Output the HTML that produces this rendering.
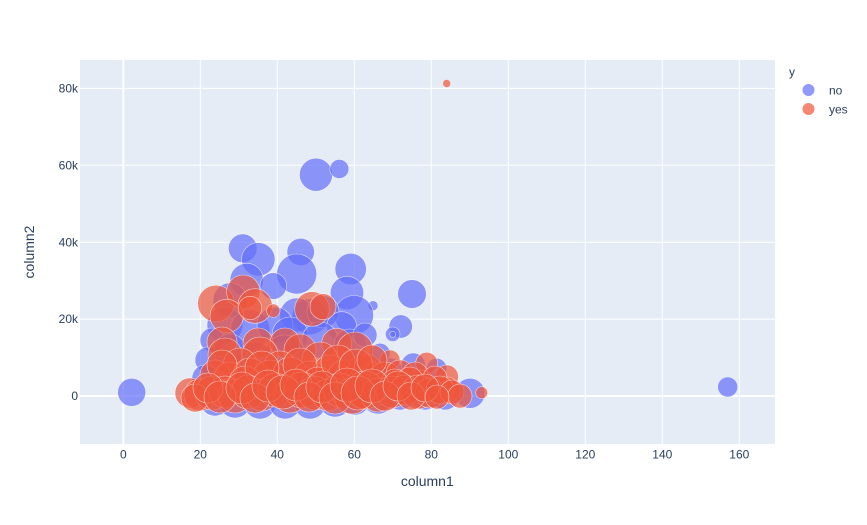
<!DOCTYPE html>
<html><head><meta charset="utf-8"><style>
html,body{margin:0;padding:0;background:#fff}
svg{display:block;font-family:"Liberation Sans",sans-serif}
.b circle{fill:#636efa;fill-opacity:.7;stroke:#fff;stroke-opacity:.7;stroke-width:.6}
.r circle{fill:#ef553b;fill-opacity:.7;stroke:#fff;stroke-opacity:.7;stroke-width:.6}
.t{fill:#2a3f5f;font-size:12px}
</style></head><body>
<svg width="867" height="525" viewBox="0 0 867 525">
<rect width="867" height="525" fill="#fff"/>
<rect x="80" y="60" width="695" height="384" fill="#e5ecf6"/>
<path stroke="#fff" stroke-width="1" d="M200.3 60V444M277.3 60V444M354.3 60V444M431.3 60V444M508.3 60V444M585.3 60V444M662.3 60V444M739.3 60V444M80 88.4H775M80 165.3H775M80 242.2H775M80 319.1H775"/>
<path stroke="#fff" stroke-width="2" d="M123.3 60V444M80 396H775"/>
<g class="b">
<circle cx="131.7" cy="392.3" r="14"/><circle cx="727.7" cy="387" r="10"/><circle cx="316" cy="174.7" r="16.5"/><circle cx="339.3" cy="169" r="9.5"/><circle cx="373" cy="305.7" r="5"/>
<circle cx="242.7" cy="248.3" r="14.3"/><circle cx="258.3" cy="259.3" r="16.7"/><circle cx="300.7" cy="252" r="13.7"/><circle cx="296.7" cy="274" r="20"/><circle cx="350.7" cy="269" r="15.7"/><circle cx="412" cy="294" r="14.3"/>
<circle cx="246.7" cy="280" r="16.7"/><circle cx="273.3" cy="286" r="13.3"/><circle cx="347" cy="293" r="16.7"/><circle cx="354" cy="315" r="19.5"/><circle cx="400.7" cy="326.5" r="11.7"/><circle cx="392.7" cy="334.3" r="7.3"/><circle cx="392.7" cy="334.3" r="3"/>
<circle cx="310" cy="316.7" r="18"/><circle cx="296.7" cy="315" r="17"/><circle cx="323" cy="311.7" r="16"/><circle cx="341.7" cy="326.7" r="15"/><circle cx="230" cy="300" r="17"/><circle cx="225" cy="325" r="18"/>
<circle cx="212" cy="340" r="12"/><circle cx="208" cy="360" r="13"/><circle cx="205" cy="378" r="13"/><circle cx="250" cy="330" r="20"/><circle cx="275" cy="325" r="18"/><circle cx="290" cy="335" r="18"/>
<circle cx="320" cy="340" r="18"/><circle cx="350" cy="345" r="16"/><circle cx="365" cy="335" r="12"/><circle cx="285" cy="355" r="20"/><circle cx="255" cy="360" r="18"/><circle cx="230" cy="350" r="16"/>
<circle cx="215" cy="401" r="15"/><circle cx="235" cy="402" r="16"/><circle cx="260" cy="403" r="16"/><circle cx="285" cy="403" r="16"/><circle cx="310" cy="403" r="16"/><circle cx="335" cy="401" r="16"/>
<circle cx="355" cy="400" r="15"/><circle cx="378" cy="398" r="16"/><circle cx="400" cy="395" r="15"/><circle cx="425" cy="395" r="15"/><circle cx="445" cy="396" r="14"/><circle cx="470" cy="393.3" r="15"/>
<circle cx="390" cy="370" r="12"/><circle cx="413.3" cy="365" r="12"/><circle cx="436.7" cy="368.3" r="10"/><circle cx="380" cy="353.3" r="10"/>
</g>
<g class="r">
<circle cx="446.7" cy="83.5" r="4"/><circle cx="216" cy="303.5" r="18.3"/><circle cx="243.3" cy="291.7" r="16.7"/><circle cx="255" cy="306" r="17.3"/><circle cx="226.7" cy="316" r="16.7"/><circle cx="250" cy="308" r="11.7"/>
<circle cx="273.3" cy="310.7" r="6.7"/><circle cx="312" cy="309" r="17.3"/><circle cx="323" cy="306.7" r="13"/><circle cx="222" cy="342" r="15"/><circle cx="225" cy="355" r="17"/><circle cx="258" cy="343" r="15"/>
<circle cx="285" cy="343" r="15"/><circle cx="260" cy="355" r="18"/><circle cx="300" cy="350" r="16"/><circle cx="336.7" cy="343.3" r="15"/><circle cx="320" cy="360" r="18"/><circle cx="355" cy="350" r="18"/>
<circle cx="390" cy="360" r="10"/><circle cx="426.7" cy="363.3" r="11"/><circle cx="446.7" cy="376.7" r="11.7"/><circle cx="481.7" cy="392.7" r="6"/><circle cx="380" cy="380" r="18"/><circle cx="420" cy="386.7" r="16.7"/>
<circle cx="363.3" cy="390" r="18"/><circle cx="446.7" cy="390" r="13"/><circle cx="240" cy="365" r="17"/><circle cx="280" cy="368" r="17"/><circle cx="215" cy="375" r="15"/><circle cx="230" cy="378" r="16"/>
<circle cx="250" cy="375" r="17"/><circle cx="270" cy="378" r="18"/><circle cx="290" cy="374" r="17"/><circle cx="310" cy="378" r="17"/><circle cx="330" cy="372" r="17"/><circle cx="345" cy="378" r="18"/>
<circle cx="365" cy="372" r="18"/><circle cx="385" cy="378" r="16"/><circle cx="400" cy="374" r="14"/><circle cx="415" cy="375" r="13"/><circle cx="435" cy="378" r="12"/><circle cx="222" cy="365" r="15"/>
<circle cx="245" cy="382" r="16"/><circle cx="262" cy="368" r="17"/><circle cx="300" cy="365" r="17"/><circle cx="318" cy="383" r="16"/><circle cx="338" cy="362" r="17"/><circle cx="356" cy="366" r="17"/>
<circle cx="372" cy="360" r="15"/><circle cx="395" cy="383" r="14"/><circle cx="410" cy="380" r="13"/><circle cx="190" cy="393" r="15"/><circle cx="200" cy="395" r="16"/><circle cx="212" cy="393" r="17"/>
<circle cx="225" cy="392" r="16"/><circle cx="235" cy="396" r="17"/><circle cx="248" cy="392" r="17"/><circle cx="262" cy="395" r="16"/><circle cx="275" cy="390" r="17"/><circle cx="290" cy="396" r="17"/>
<circle cx="302" cy="390" r="18"/><circle cx="315" cy="393" r="17"/><circle cx="328" cy="395" r="16"/><circle cx="340" cy="390" r="17"/><circle cx="352" cy="396" r="18"/><circle cx="365" cy="390" r="19"/>
<circle cx="378" cy="395" r="17"/><circle cx="392" cy="392" r="16"/><circle cx="405" cy="390" r="15"/><circle cx="418" cy="392" r="17"/><circle cx="430" cy="393" r="15"/><circle cx="440" cy="390" r="14"/>
<circle cx="452" cy="392" r="12"/><circle cx="460" cy="396" r="12"/><circle cx="195" cy="398" r="14"/><circle cx="208" cy="388" r="15"/><circle cx="220" cy="397" r="16"/><circle cx="242" cy="388" r="16"/>
<circle cx="255" cy="398" r="15"/><circle cx="268" cy="386" r="16"/><circle cx="283" cy="392" r="17"/><circle cx="296" cy="385" r="16"/><circle cx="309" cy="397" r="15"/><circle cx="322" cy="387" r="16"/>
<circle cx="335" cy="398" r="16"/><circle cx="347" cy="385" r="17"/><circle cx="358" cy="393" r="17"/><circle cx="372" cy="386" r="17"/><circle cx="385" cy="396" r="15"/><circle cx="398" cy="386" r="15"/>
<circle cx="411" cy="396" r="14"/><circle cx="425" cy="388" r="14"/><circle cx="437" cy="397" r="12"/>
</g>
<g class="t" text-anchor="end">
<text x="78" y="92.5">80k</text><text x="78" y="169.4">60k</text><text x="78" y="246.3">40k</text><text x="78" y="323.2">20k</text><text x="78" y="400.1">0</text>
</g>
<g class="t" text-anchor="middle">
<text x="123.3" y="458.5">0</text><text x="200.3" y="458.5">20</text><text x="277.3" y="458.5">40</text><text x="354.3" y="458.5">60</text><text x="431.3" y="458.5">80</text>
<text x="508.3" y="458.5">100</text><text x="585.3" y="458.5">120</text><text x="662.3" y="458.5">140</text><text x="739.3" y="458.5">160</text>
</g>
<text x="427.3" y="486" text-anchor="middle" fill="#2a3f5f" font-size="14">column1</text>
<text transform="translate(34,252) rotate(-90)" text-anchor="middle" fill="#2a3f5f" font-size="14">column2</text>
<text x="789" y="76" class="t" font-size="13">y</text>
<circle cx="808.5" cy="90" r="6" fill="#636efa" fill-opacity=".7"/>
<circle cx="808.5" cy="109" r="6" fill="#ef553b" fill-opacity=".7"/>
<text x="829" y="94.5" class="t" font-size="13">no</text>
<text x="829" y="113.5" class="t" font-size="13">yes</text>
</svg>
</body></html>
